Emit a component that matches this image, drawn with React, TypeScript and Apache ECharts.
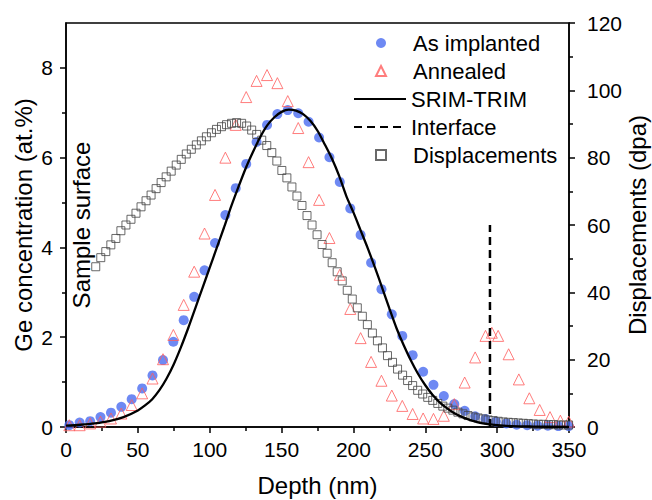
import React, { useEffect, useRef } from 'react';
import * as echarts from 'echarts';

// ---- data ----
const depthDots = [
  2.3, 9.5, 16.8, 24.0, 31.3, 38.5, 45.7, 53.0, 60.2, 67.5, 74.7, 81.9, 89.2, 96.4, 103.7, 110.9, 118.1,
  125.4, 132.6, 139.9, 147.1, 154.3, 161.6, 168.8, 176.1, 183.3, 190.5, 197.8, 205.0, 212.3, 219.5, 226.7,
  234.0, 241.2, 248.5, 255.7, 262.9, 270.2, 277.4, 284.7, 291.9, 299.1, 306.4, 313.6, 320.9, 328.1, 335.3,
  342.6, 349.8,
];
const asImplanted = [
  0.04, 0.10, 0.13, 0.22, 0.32, 0.45, 0.62, 0.86, 1.15, 1.49, 1.90, 2.38, 2.90, 3.49, 4.10, 4.72, 5.32,
  5.86, 6.35, 6.73, 6.97, 7.06, 6.99, 6.80, 6.45, 6.01, 5.46, 4.87, 4.28, 3.66, 3.07, 2.51, 2.03, 1.60,
  1.23, 0.94, 0.69, 0.51, 0.36, 0.24, 0.18, 0.12, 0.08, 0.05, 0.04, 0.03, 0.03, 0.02, 0.02,
];
const depthAnnealed = [
  2.3, 9.5, 16.8, 24.0, 31.3, 38.5, 45.7, 53.0, 60.2, 67.5, 74.7, 81.9, 89.2, 96.4, 103.7, 110.9, 118.1,
  125.4, 132.6, 139.9, 147.1, 154.3, 161.6, 168.8, 176.1, 183.3, 190.5, 197.8, 205.0, 212.3, 219.5, 226.7,
  234.0, 241.2, 248.5, 255.7, 262.9, 270.2, 277.4, 284.7, 291.9, 296.3, 300.7, 308.0, 315.1, 322.4, 329.6,
  336.8, 344.0, 349.8,
];
const annealed = [
  0.04, 0.04, 0.08, 0.12, 0.19, 0.30, 0.49, 0.75, 1.08, 1.51, 2.05, 2.72, 3.46, 4.31, 5.17, 6.00, 6.73,
  7.35, 7.71, 7.84, 7.66, 7.26, 6.66, 5.90, 5.06, 4.21, 3.39, 2.63, 1.98, 1.45, 1.03, 0.70, 0.47, 0.29,
  0.19, 0.18, 0.25, 0.51, 0.99, 1.55, 2.03, 2.10, 2.03, 1.62, 1.06, 0.64, 0.38, 0.22, 0.14, 0.12,
];
const depthSrim = [
  0, 10, 20, 30, 40, 50, 55, 60, 65, 70, 75, 80, 85, 90, 95, 100, 105, 110, 115, 120, 125, 130, 135, 140,
  145, 150, 155, 160, 165, 170, 175, 180, 185, 190, 195, 200, 205, 210, 215, 220, 225, 230, 235, 240, 245,
  250, 255, 260, 265, 270, 275, 280, 285, 290, 300, 310, 325, 350,
];
const srimTrim = [
  0.03, 0.05, 0.08, 0.13, 0.22, 0.37, 0.48, 0.62, 0.82, 1.08, 1.40, 1.78, 2.20, 2.65, 3.10, 3.55, 4.00,
  4.45, 4.92, 5.35, 5.76, 6.12, 6.45, 6.72, 6.90, 7.02, 7.07, 7.05, 6.97, 6.82, 6.60, 6.30, 5.98, 5.60,
  5.15, 4.78, 4.38, 3.98, 3.55, 3.10, 2.64, 2.20, 1.82, 1.48, 1.18, 0.93, 0.72, 0.55, 0.42, 0.31, 0.23,
  0.17, 0.12, 0.08, 0.04, 0.02, 0.01, 0.0,
];
const depthDisp = [
  20.7, 24.2, 27.7, 31.2, 34.7, 38.2, 41.7, 45.2, 48.7, 52.2, 55.7, 59.2, 62.7, 66.2, 69.7, 73.2, 76.7,
  80.2, 83.7, 87.2, 90.7, 94.2, 97.7, 101.2, 104.7, 108.2, 111.7, 115.2, 118.7, 122.2, 125.7, 129.2, 132.7,
  136.2, 139.7, 143.2, 146.7, 150.2, 153.7, 157.2, 160.7, 164.2, 167.7, 171.2, 174.7, 178.2, 181.7, 185.2,
  188.7, 192.2, 195.7, 199.2, 202.7, 206.2, 209.7, 213.2, 216.7, 220.2, 223.7, 227.2, 230.7, 234.2, 237.7,
  241.2, 244.7, 248.2, 251.7, 255.2, 258.7, 262.2, 265.7, 269.2, 272.7, 276.2, 279.7, 283.2, 286.7, 290.2,
  293.7, 297.2, 300.7, 304.2, 307.7, 311.2, 314.7, 318.2, 321.7, 325.2, 328.7, 332.2, 335.7, 339.2, 342.7,
  346.2, 349.7,
];
const displacements = [
  47.6, 50.3, 52.1, 54.1, 56.0, 58.3, 60.0, 61.7, 63.5, 65.4, 67.2, 68.9, 70.8, 72.6, 74.3, 76.0, 77.8,
  79.5, 81.1, 82.5, 83.8, 85.0, 86.2, 87.4, 88.4, 89.2, 89.8, 90.2, 90.4, 90.2, 89.4, 88.2, 86.9, 85.2,
  83.6, 81.5, 79.0, 76.2, 74.0, 71.3, 68.6, 65.8, 62.8, 60.0, 57.1, 54.2, 51.6, 48.8, 46.1, 43.4, 40.6,
  38.0, 35.4, 32.9, 30.4, 27.9, 25.6, 23.5, 21.2, 19.2, 17.2, 15.4, 13.8, 12.3, 10.9, 9.8, 8.8, 7.9, 7.0,
  6.2, 5.6, 5.0, 4.4, 3.9, 3.4, 3.0, 2.7, 2.4, 2.1, 1.9, 1.7, 1.5, 1.4, 1.3, 1.2, 1.1, 1.0, 0.9, 0.8, 0.8,
  0.7, 0.7, 0.6, 0.6, 0.6,
];
const interfaceDepth = [295, 295];
const interfaceConc = [0, 4.5];
const leftMajorTicks = [0, 2, 4, 6, 8];
const leftMinorTicks = [1, 3, 5, 7];

const FONT = '"Liberation Sans", Arial, Helvetica, sans-serif';
const BLUE = '#4a6cf0';
const RED = '#ff5c5c';
const GREY = '#444444';

const zip = (xs: number[], ys: number[]) => xs.map((x, i) => [x, ys[i]]);

export default function App() {
  const ref = useRef<HTMLDivElement>(null);
  useEffect(() => {
    if (!ref.current) return;
    const chart = echarts.init(ref.current, undefined, { renderer: 'svg' });
    const axisLine = { show: true, lineStyle: { color: '#000', width: 1.5 } };
    const tickStyle = { color: '#000', width: 1.5 };
    const legendText = { fontSize: 22, lineHeight: 22, color: '#000', fontFamily: FONT };
    const symbolLegend = {
      orient: 'vertical',
      left: 375,
      padding: 0,
      itemWidth: 10,
      itemHeight: 10,
      itemGap: 6,
      textStyle: { ...legendText, padding: [0, 0, 0, 22] },
    };
    chart.setOption({
      animation: false,
      backgroundColor: '#fff',
      textStyle: { fontFamily: FONT, color: '#000' },
      grid: {
        left: 66,
        right: 83,
        top: 23,
        bottom: 73,
        show: true,
        borderColor: '#000',
        borderWidth: 1.5,
        containLabel: false,
        outerBoundsMode: 'none',
      },
      legend: [
        { ...symbolLegend, top: 32, data: ['As implanted', 'Annealed'] },
        {
          orient: 'vertical',
          left: 353,
          top: 88,
          padding: 0,
          itemWidth: 52,
          itemHeight: 10,
          itemGap: 6,
          itemStyle: { opacity: 0 },
          textStyle: legendText,
          data: ['SRIM-TRIM', 'Interface'],
        },
        { ...symbolLegend, top: 144, data: ['Displacements'] },
      ],
      xAxis: {
        type: 'value',
        min: 0,
        max: 350,
        interval: 50,
        axisLine,
        axisTick: { show: true, length: 6, lineStyle: tickStyle },
        minorTick: { show: true, splitNumber: 2, length: 4, lineStyle: tickStyle },
        axisLabel: { fontSize: 21, color: '#000', margin: 12, fontFamily: FONT },
        splitLine: { show: false },
        name: 'Depth (nm)',
        nameLocation: 'middle',
        nameGap: 46,
        nameMoveOverlap: false,
        nameTextStyle: { fontSize: 24, color: '#000', fontFamily: FONT },
      },
      yAxis: [
        {
          type: 'value',
          min: 0,
          max: 9,
          position: 'left',
          axisLine,
          axisTick: { show: true, customValues: leftMajorTicks, length: 6, lineStyle: tickStyle },
          axisLabel: { customValues: leftMajorTicks, fontSize: 21, color: '#000', margin: 13, fontFamily: FONT },
          splitLine: { show: false },
          name: 'Ge concentration (at.%)',
          nameLocation: 'middle',
          nameRotate: 90,
          nameGap: 31,
          nameMoveOverlap: false,
          nameTextStyle: { fontSize: 24, color: '#000', fontFamily: FONT },
        },
        {
          type: 'value',
          min: 0,
          max: 120,
          interval: 20,
          position: 'right',
          axisLine,
          axisTick: { show: true, length: 6, lineStyle: tickStyle },
          minorTick: { show: true, splitNumber: 2, length: 4, lineStyle: tickStyle },
          axisLabel: { fontSize: 21, color: '#000', margin: 18, fontFamily: FONT },
          splitLine: { show: false },
          name: 'Displacements (dpa)',
          nameLocation: 'middle',
          nameRotate: 90,
          nameGap: 56,
          nameMoveOverlap: false,
          nameTextStyle: { fontSize: 24, color: '#000', fontFamily: FONT },
        },
        {
          type: 'value',
          min: 0,
          max: 9,
          position: 'left',
          axisLine: { show: false },
          axisTick: { show: true, customValues: leftMinorTicks, length: 4, lineStyle: tickStyle },
          axisLabel: { show: false },
          splitLine: { show: false },
        },
      ],
      graphic: [
        {
          type: 'text',
          x: 81,
          y: 225,
          rotation: Math.PI / 2,
          style: {
            text: 'Sample surface',
            fontSize: 24,
            fontFamily: FONT,
            fill: '#000',
            align: 'center',
            verticalAlign: 'middle',
          },
        },
      ],
      series: [
        {
          name: 'As implanted',
          type: 'scatter',
          yAxisIndex: 0,
          symbol: 'circle',
          symbolSize: 10,
          itemStyle: { color: BLUE },
          data: zip(depthDots, asImplanted),
        },
        {
          name: 'Annealed',
          type: 'scatter',
          yAxisIndex: 0,
          symbol: 'triangle',
          symbolSize: 11,
          itemStyle: { color: 'rgba(0,0,0,0)', borderColor: RED, borderWidth: 1 },
          data: zip(depthAnnealed, annealed),
        },
        {
          name: 'SRIM-TRIM',
          type: 'line',
          yAxisIndex: 0,
          smooth: 0.3,
          symbol: 'none',
          showSymbol: false,
          lineStyle: { color: '#000', width: 2.3 },
          itemStyle: { color: '#000' },
          data: zip(depthSrim, srimTrim),
        },
        {
          name: 'Interface',
          type: 'line',
          yAxisIndex: 0,
          symbol: 'none',
          showSymbol: false,
          lineStyle: { color: '#000', width: 2.5, type: [8, 5] },
          itemStyle: { color: '#000' },
          data: zip(interfaceDepth, interfaceConc),
        },
        {
          name: 'Displacements',
          type: 'scatter',
          yAxisIndex: 1,
          symbol: 'rect',
          symbolSize: 8,
          itemStyle: { color: 'rgba(0,0,0,0)', borderColor: GREY, borderWidth: 1 },
          data: zip(depthDisp, displacements),
        },
      ],
    });
    return () => chart.dispose();
  }, []);
  return (
    <div
      ref={ref}
      style={{ position: 'fixed', left: 0, top: 0, width: 652, height: 500, background: '#fff' }}
    />
  );
}
